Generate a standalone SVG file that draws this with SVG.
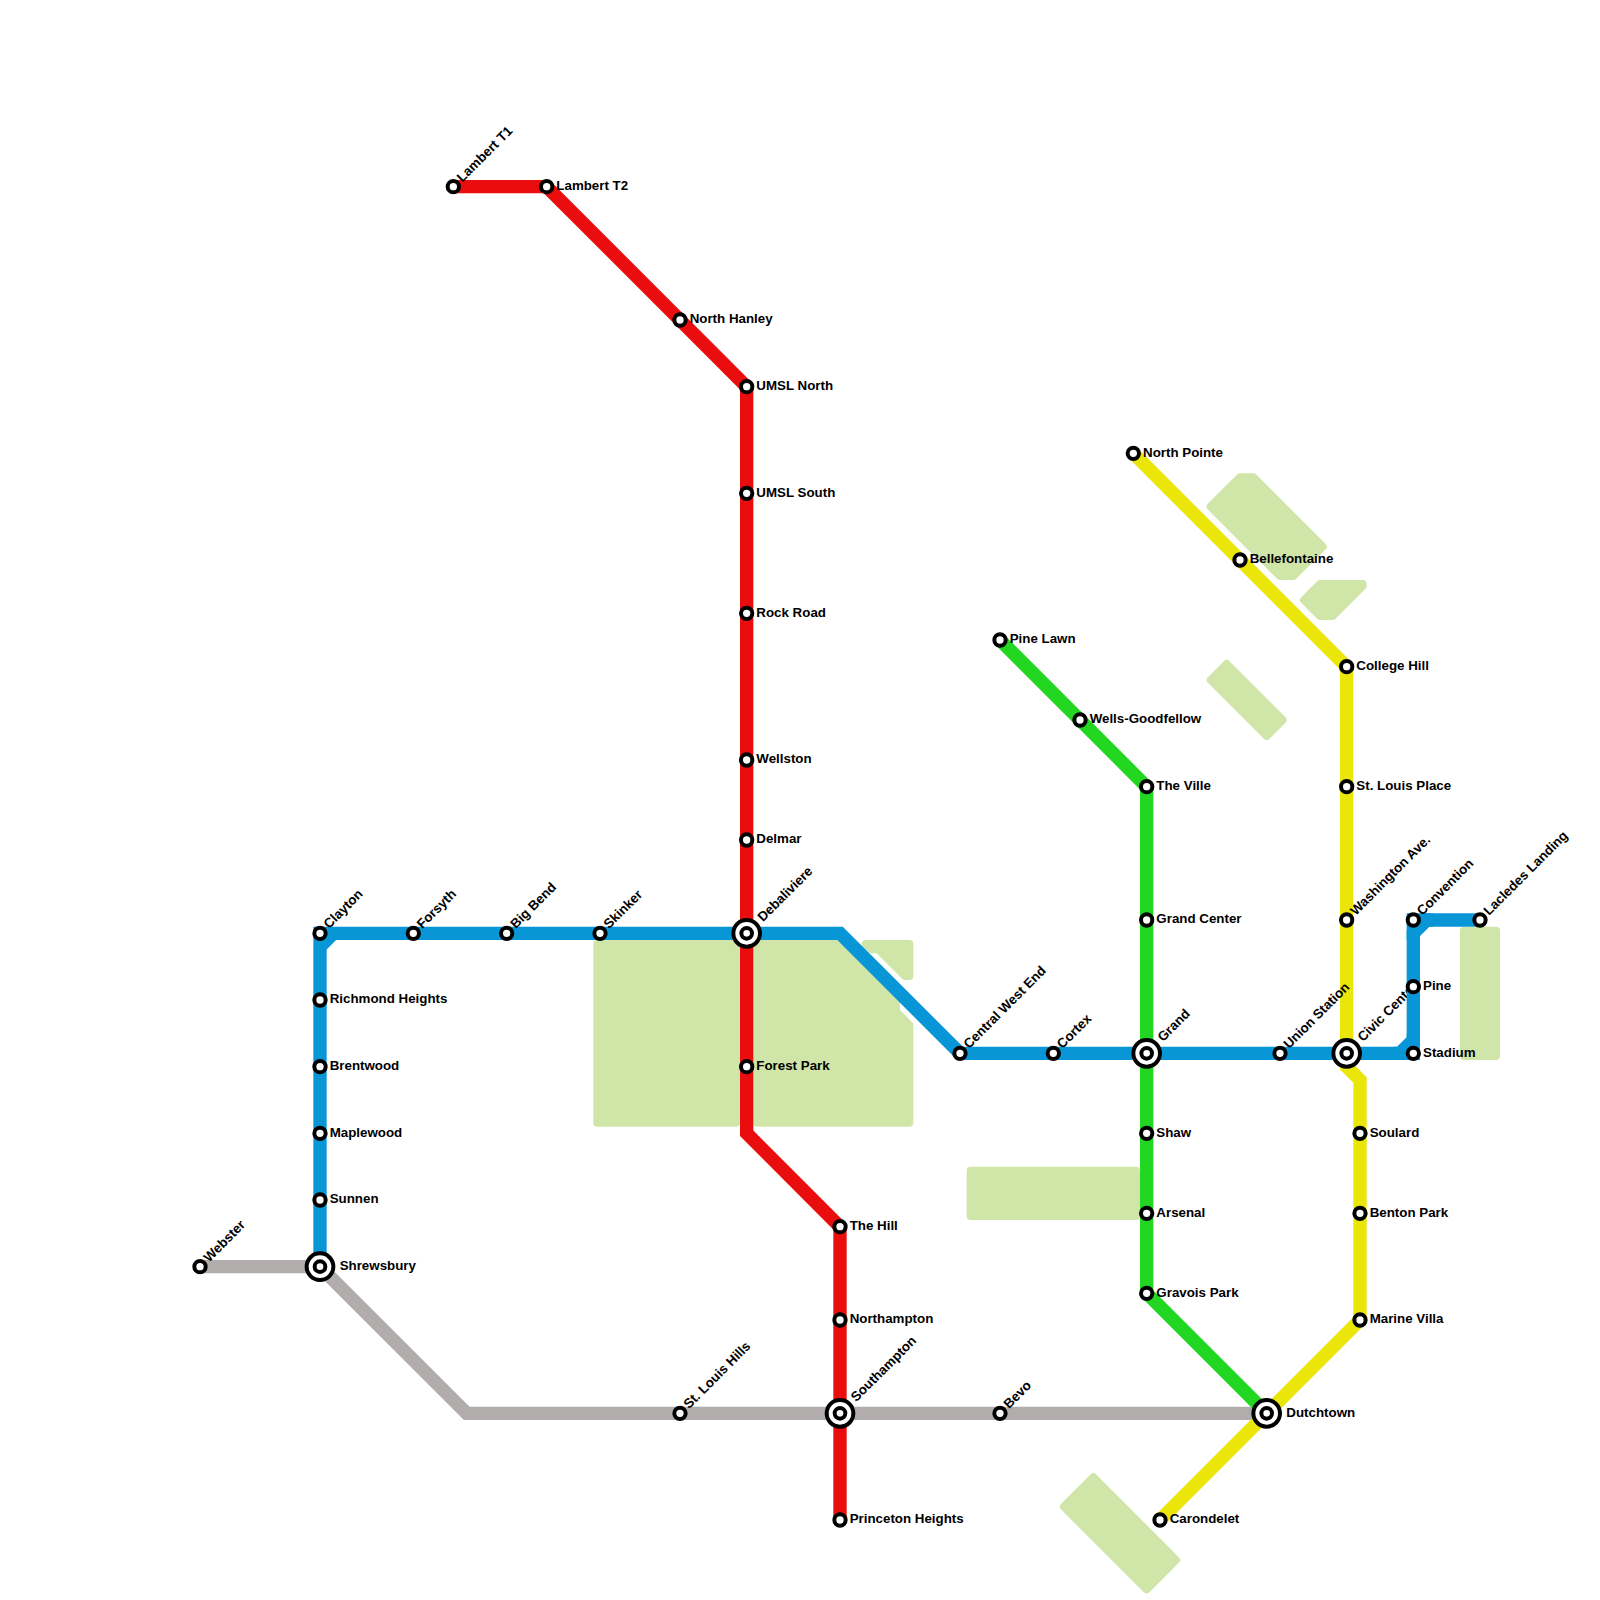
<svg xmlns="http://www.w3.org/2000/svg" width="1600" height="1600" viewBox="0 0 1600 1600">
<style>
text{font-family:"Liberation Sans",Arial,sans-serif;font-weight:700;font-size:13.33px;fill:#000}
.park{fill:#d0e5a8;stroke:#d0e5a8;stroke-width:8;stroke-linejoin:round}
.ln{fill:none;stroke-width:13.33;stroke-linejoin:miter;stroke-linecap:butt}
.blue{stroke:#0896d7}.red{stroke:#e90d0d}.green{stroke:#22d622}.yellow{stroke:#ebe60a}.grey{stroke:#b1adad}
.st{fill:#fff;stroke:#000;stroke-width:4}
</style>
<defs>
<g id="stop"><circle class="st" r="5.67"/></g>
<g id="hub"><circle class="st" r="13.33"/><circle class="st" r="5.33"/></g>
</defs>
<rect width="1600" height="1600" fill="#fff"/>
<g id="parks">
<rect class="park" x="597.33" y="944" width="138.67" height="178.67"/>
<polygon class="park" points="757.33,944 840,944 896,1000 896,1011.66 909.33,1025 909.33,1122.67 757.33,1122.67"/>
<polygon class="park" points="867,944 909.33,944 909.33,976 905,976 878.5,949.33 871.5,949.33 865.67,944"/>
<rect class="park" x="970.67" y="1170.67" width="165.33" height="45.33"/>
<rect class="park" x="1464" y="930.67" width="32" height="125.33"/>
<polygon class="park" points="1240,477.33 1253.33,477.33 1322.67,546.67 1293.33,576 1280,576 1210.67,506.67"/>
<polygon class="park" points="1320,584 1362.67,584 1362.67,586 1332.67,616 1320,616 1304,600"/>
<polygon class="park" points="1226.67,664 1282.67,720 1266.67,736 1210.67,680"/>
<polygon class="park" points="1093.33,1477.33 1176,1560 1146.67,1589.33 1064,1506.67"/>
</g>
<g id="label-civic-center"><text transform="translate(1363 1042.33) rotate(-45)">Civic Center</text></g>
<g id="connectors">
<polyline class="ln grey" points="200,1266.67 320,1266.67 466.67,1413.33 1266.67,1413.33"/>
<polyline class="ln yellow" points="1133.33,453.33 1346.67,666.67 1346.67,1066.67 1360,1080 1360,1320 1160,1520"/>
<polyline class="ln green" points="1000,640 1146.67,786.67 1146.67,1293.33 1266.67,1413.33"/>
<polyline class="ln red" points="453.33,186.67 546.67,186.67 746.67,386.67 746.67,1133.33 840,1226.67 840,1520"/>
<polyline class="ln blue" points="320,1266.67 320,933.33 840,933.33 960,1053.33 1400,1053.33 1413.33,1040 1413.33,933.33 1426.67,920 1480,920"/>
<polyline class="ln blue" points="320,946.67 333.33,933.33"/>
<polyline class="ln blue" points="1393.33,1053.33 1413.33,1053.33 1413.33,1033.33"/>
<polyline class="ln blue" points="1413.33,940 1413.33,920 1433.33,920"/>
</g>
<g id="n-webster"><use href="#stop" x="200" y="1266.67"/><text transform="translate(209 1262.67) rotate(-45)">Webster</text></g>
<g id="n-shrewsbury"><use href="#hub" x="320" y="1266.67"/><text x="339.67" y="1270">Shrewsbury</text></g>
<g id="n-clayton"><use href="#stop" x="320" y="933.33"/><text transform="translate(329 929.33) rotate(-45)">Clayton</text></g>
<g id="n-richmond-heights"><use href="#stop" x="320" y="1000"/><text x="329.67" y="1003.33">Richmond Heights</text></g>
<g id="n-brentwood"><use href="#stop" x="320" y="1066.67"/><text x="329.67" y="1070">Brentwood</text></g>
<g id="n-maplewood"><use href="#stop" x="320" y="1133.33"/><text x="329.67" y="1136.67">Maplewood</text></g>
<g id="n-sunnen"><use href="#stop" x="320" y="1200"/><text x="329.67" y="1203.33">Sunnen</text></g>
<g id="n-forsyth"><use href="#stop" x="413.33" y="933.33"/><text transform="translate(422.33 929.33) rotate(-45)">Forsyth</text></g>
<g id="n-big-bend"><use href="#stop" x="506.67" y="933.33"/><text transform="translate(515.67 929.33) rotate(-45)">Big Bend</text></g>
<g id="n-skinker"><use href="#stop" x="600" y="933.33"/><text transform="translate(609 929.33) rotate(-45)">Skinker</text></g>
<g id="n-debaliviere"><use href="#hub" x="746.67" y="933.33"/><text transform="translate(763 922.33) rotate(-45)">Debaliviere</text></g>
<g id="n-central-west-end"><use href="#stop" x="960" y="1053.33"/><text transform="translate(969 1049.33) rotate(-45)">Central West End</text></g>
<g id="n-cortex"><use href="#stop" x="1053.33" y="1053.33"/><text transform="translate(1062.33 1049.33) rotate(-45)">Cortex</text></g>
<g id="n-grand"><use href="#hub" x="1146.67" y="1053.33"/><text transform="translate(1163 1042.33) rotate(-45)">Grand</text></g>
<g id="n-union-station"><use href="#stop" x="1280" y="1053.33"/><text transform="translate(1289 1049.33) rotate(-45)">Union Station</text></g>
<g id="n-civic-center"><use href="#hub" x="1346.67" y="1053.33"/></g>
<g id="n-stadium"><use href="#stop" x="1413.33" y="1053.33"/><text x="1423" y="1056.67">Stadium</text></g>
<g id="n-pine"><use href="#stop" x="1413.33" y="986.67"/><text x="1423" y="990">Pine</text></g>
<g id="n-convention"><use href="#stop" x="1413.33" y="920"/><text transform="translate(1422.33 916) rotate(-45)">Convention</text></g>
<g id="n-lacledes-landing"><use href="#stop" x="1480" y="920"/><text transform="translate(1489 916) rotate(-45)">Lacledes Landing</text></g>
<g id="n-lambert-t1"><use href="#stop" x="453.33" y="186.67"/><text transform="translate(462.33 182.67) rotate(-45)">Lambert T1</text></g>
<g id="n-lambert-t2"><use href="#stop" x="546.67" y="186.67"/><text x="556.33" y="190">Lambert T2</text></g>
<g id="n-north-hanley"><use href="#stop" x="680" y="320"/><text x="689.67" y="323.33">North Hanley</text></g>
<g id="n-umsl-north"><use href="#stop" x="746.67" y="386.67"/><text x="756.33" y="390">UMSL North</text></g>
<g id="n-umsl-south"><use href="#stop" x="746.67" y="493.33"/><text x="756.33" y="496.67">UMSL South</text></g>
<g id="n-rock-road"><use href="#stop" x="746.67" y="613.33"/><text x="756.33" y="616.67">Rock Road</text></g>
<g id="n-wellston"><use href="#stop" x="746.67" y="760"/><text x="756.33" y="763.33">Wellston</text></g>
<g id="n-delmar"><use href="#stop" x="746.67" y="840"/><text x="756.33" y="843.33">Delmar</text></g>
<g id="n-forest-park"><use href="#stop" x="746.67" y="1066.67"/><text x="756.33" y="1070">Forest Park</text></g>
<g id="n-the-hill"><use href="#stop" x="840" y="1226.67"/><text x="849.67" y="1230">The Hill</text></g>
<g id="n-northampton"><use href="#stop" x="840" y="1320"/><text x="849.67" y="1323.33">Northampton</text></g>
<g id="n-southampton"><use href="#hub" x="840" y="1413.33"/><text transform="translate(856.33 1402.33) rotate(-45)">Southampton</text></g>
<g id="n-princeton-heights"><use href="#stop" x="840" y="1520"/><text x="849.67" y="1523.33">Princeton Heights</text></g>
<g id="n-st-louis-hills"><use href="#stop" x="680" y="1413.33"/><text transform="translate(689 1409.33) rotate(-45)">St. Louis Hills</text></g>
<g id="n-bevo"><use href="#stop" x="1000" y="1413.33"/><text transform="translate(1009 1409.33) rotate(-45)">Bevo</text></g>
<g id="n-dutchtown"><use href="#hub" x="1266.67" y="1413.33"/><text x="1286.33" y="1416.67">Dutchtown</text></g>
<g id="n-carondelet"><use href="#stop" x="1160" y="1520"/><text x="1169.67" y="1523.33">Carondelet</text></g>
<g id="n-pine-lawn"><use href="#stop" x="1000" y="640"/><text x="1009.67" y="643.33">Pine Lawn</text></g>
<g id="n-wells-goodfellow"><use href="#stop" x="1080" y="720"/><text x="1089.67" y="723.33">Wells-Goodfellow</text></g>
<g id="n-the-ville"><use href="#stop" x="1146.67" y="786.67"/><text x="1156.33" y="790">The Ville</text></g>
<g id="n-grand-center"><use href="#stop" x="1146.67" y="920"/><text x="1156.33" y="923.33">Grand Center</text></g>
<g id="n-shaw"><use href="#stop" x="1146.67" y="1133.33"/><text x="1156.33" y="1136.67">Shaw</text></g>
<g id="n-arsenal"><use href="#stop" x="1146.67" y="1213.33"/><text x="1156.33" y="1216.67">Arsenal</text></g>
<g id="n-gravois-park"><use href="#stop" x="1146.67" y="1293.33"/><text x="1156.33" y="1296.67">Gravois Park</text></g>
<g id="n-north-pointe"><use href="#stop" x="1133.33" y="453.33"/><text x="1143" y="456.67">North Pointe</text></g>
<g id="n-bellefontaine"><use href="#stop" x="1240" y="560"/><text x="1249.67" y="563.33">Bellefontaine</text></g>
<g id="n-college-hill"><use href="#stop" x="1346.67" y="666.67"/><text x="1356.33" y="670">College Hill</text></g>
<g id="n-st-louis-place"><use href="#stop" x="1346.67" y="786.67"/><text x="1356.33" y="790">St. Louis Place</text></g>
<g id="n-washington-ave"><use href="#stop" x="1346.67" y="920"/><text transform="translate(1355.67 916) rotate(-45)">Washington Ave.</text></g>
<g id="n-soulard"><use href="#stop" x="1360" y="1133.33"/><text x="1369.67" y="1136.67">Soulard</text></g>
<g id="n-benton-park"><use href="#stop" x="1360" y="1213.33"/><text x="1369.67" y="1216.67">Benton Park</text></g>
<g id="n-marine-villa"><use href="#stop" x="1360" y="1320"/><text x="1369.67" y="1323.33">Marine Villa</text></g>
</svg>
